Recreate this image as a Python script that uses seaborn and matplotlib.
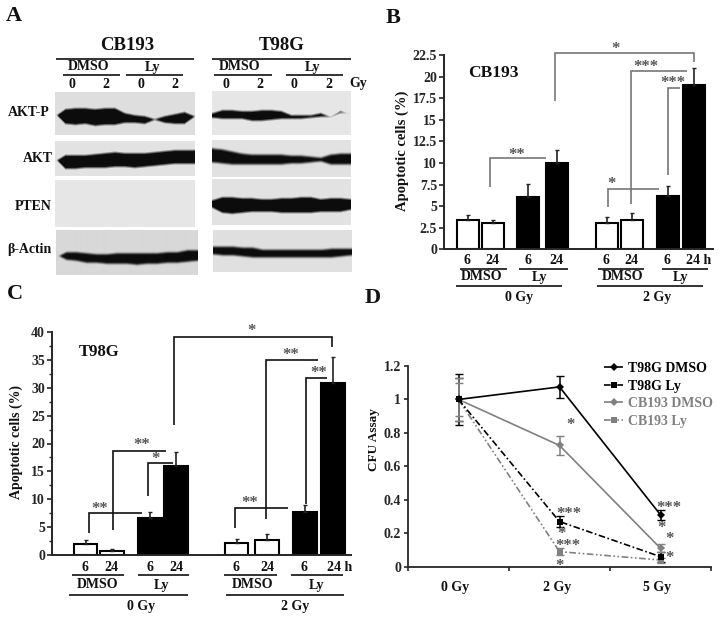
import numpy as np
import pandas as pd
import seaborn as sns
import matplotlib.pyplot as plt

W, H = 718, 619
INK = "#111111"

# bar panels
bar_groups = ["DMSO", "DMSO", "Ly", "Ly", "DMSO", "DMSO", "Ly", "Ly"]

cb193_pos = [468, 493.3, 528.3, 556.7, 607, 632.3, 667.7, 694.3]
cb193_vals = [3.4, 3.0, 6.0, 10.0, 3.0, 3.4, 6.2, 19.0]
cb193_err = [0.55, 0.45, 1.55, 1.5, 0.7, 0.75, 1.1, 2.0]
cb193_ticks = [0, 2.5, 5, 7.5, 10, 12.5, 15, 17.5, 20, 22.5]
cb193_ticklabels = ["0", "2.5", "5", "7.5", "10", "12.5", "15", "17.5", "20", "22.5"]

t98g_pos = [85.5, 112.3, 150.2, 176, 236.5, 267.2, 304.7, 333.3]
t98g_vals = [1.9, 0.8, 6.7, 15.9, 2.1, 2.7, 7.8, 30.9]
t98g_err = [0.8, 0.2, 0.96, 2.5, 0.77, 1.0, 1.2, 4.7]
t98g_ticks = [0, 5, 10, 15, 20, 25, 30, 35, 40]

# CFU panel
doses = ["0 Gy", "2 Gy", "5 Gy"]
cfu_t98g_dmso = [1, 1.075, 0.31]
cfu_t98g_ly = [1, 0.27, 0.06]
cfu_cb193_dmso = [1, 0.725, 0.11]
cfu_cb193_ly = [1, 0.09, 0.04]
err_t98g_dmso = [0.15, 0.065, 0.03]
err_t98g_ly = [0.13, 0.035, 0.03]
err_cb193_dmso = [0.13, 0.055, 0.025]
err_cb193_ly = [0.1, 0.02, 0.015]
series_names = ["T98G DMSO", "T98G Ly", "CB193 DMSO", "CB193 Ly"]
series_colors = ["#000000", "#000000", "#808080", "#808080"]

# blots: band top / bottom edge in pixel rows, 15 nodes across each strip
blot_names = ["AKT-P", "AKT", "PTEN", "β-Actin"]
blots = [
    ((55, 195, 92, 135), 222,
     [115, 108, 107, 107, 108, 107, 107, 112, 114, 115, 118, 115, 113, 111, 115],
     [115, 125, 126, 125, 127, 126, 126, 124, 124, 125, 121, 124, 125, 125, 118]),
    ((55, 195, 141, 176), 226,
     [160, 154, 154, 154, 153, 152, 151, 152, 152, 152, 151, 150, 149, 149, 149],
     [160, 170, 170, 169, 169, 169, 168, 168, 169, 168, 167, 166, 165, 165, 165]),
    ((55, 195, 180, 227), 230, [200] * 15, [200] * 15),
    ((56, 197, 230, 275), 216,
     [256, 251, 251, 252, 253, 253, 252, 252, 252, 252, 252, 251, 251, 249, 249],
     [256, 261, 262, 264, 264, 265, 265, 265, 266, 265, 265, 264, 264, 263, 262]),
    ((212, 351, 91, 135), 230,
     [112, 109, 109, 110, 110, 109, 109, 110, 114, 114, 114, 112, 116, 110, 114],
     [119, 120, 120, 120, 122, 122, 121, 120, 120, 120, 119, 118, 118, 114, 114]),
    ((212, 351, 140, 177), 226,
     [148, 149, 151, 153, 154, 154, 154, 154, 155, 155, 156, 157, 154, 153, 153],
     [164, 165, 166, 166, 166, 166, 166, 166, 165, 165, 164, 163, 166, 166, 166]),
    ((212, 351, 179, 225), 226,
     [199, 196, 196, 197, 197, 198, 198, 197, 197, 196, 196, 198, 197, 197, 198],
     [209, 214, 215, 214, 213, 213, 213, 214, 214, 214, 214, 213, 213, 213, 211]),
    ((213, 352, 230, 272), 224,
     [246, 246, 246, 247, 247, 249, 249, 249, 249, 249, 249, 249, 248, 248, 248],
     [256, 257, 257, 258, 259, 259, 259, 259, 259, 259, 259, 259, 259, 258, 257]),
]

sns.set_theme(style="ticks")
plt.rcParams["font.family"] = ["Liberation Serif", "DejaVu Serif"]
plt.rcParams["font.weight"] = "bold"
plt.rcParams["axes.labelweight"] = "bold"

fig = plt.figure(figsize=(W / 100, H / 100), dpi=100)


def add_ax(x0, x1, ytop, ybot):
    return fig.add_axes([x0 / W, 1 - ybot / H, (x1 - x0) / W, (ybot - ytop) / H])


over = add_ax(0, W, 0, H)
over.set_xlim(0, W)
over.set_ylim(H, 0)
over.set_axis_off()
over.set_zorder(10)
over.patch.set_alpha(0)


def txt(x, y, s, size=10, color=INK, ha="center", rotation=0):
    over.text(x, y, s, fontsize=size, color=color, ha=ha, va="center",
              rotation=rotation, fontweight="bold")


def line(xs, ys, color=INK, lw=1.2):
    over.plot(xs, ys, color=color, lw=lw, solid_joinstyle="miter", solid_capstyle="butt")


# panel A
for (box, bg, top, bot) in blots:
    ax = add_ax(box[0], box[1], box[2], box[3])
    rows = np.arange(box[2], box[3])[:, None] + 0.5
    cols = np.arange(box[1] - box[0]) / (box[1] - box[0] - 1) * 14
    # per pixel column edges so the band stays smooth sideways
    top = np.interp(cols, np.arange(15), top)
    bot = np.interp(cols, np.arange(15), bot)
    band = np.clip((rows - top) / 3.0, 0, 1) * np.clip((bot - rows) / 3.0, 0, 1)
    img = bg - (bg - 12) * np.clip(band * 1.15, 0, 1)
    ax.imshow(img, cmap="gray", vmin=0, vmax=255, aspect="auto", interpolation="bicubic")
    ax.set_axis_off()

for name, xr, y in zip(blot_names, [50, 53, 52, 51], [113, 158, 207, 250]):
    txt(xr, y, name, size=10, ha="right")

txt(127, 45, "CB193", size=13.5)
txt(282, 45, "T98G", size=13.5)
line([56, 194], [58.7, 58.7])
line([212, 351], [58.7, 58.7])
for xc, s, x0, x1 in [(89, "DMSO", 63, 120), (153, "Ly", 126, 183),
                      (240, "DMSO", 214, 272), (313, "Ly", 286, 343)]:
    txt(xc, 67, s)
    line([x0, x1], [75, 75])
for xc, s in zip([72, 106, 141, 175, 226, 260, 294, 329], ["0", "2"] * 4):
    txt(xc, 84, s)
txt(358, 83, "Gy")


def bar_panel(box, pos, vals, err, ticks, ylim, width):
    ax = add_ax(*box)
    df = pd.DataFrame({"pos": pos, "val": vals, "group": bar_groups})
    sns.barplot(data=df, x="pos", y="val", hue="group", dodge=False, native_scale=True,
                palette={"DMSO": "white", "Ly": "black"}, edgecolor="black", linewidth=1.5,
                width=width, errorbar=None, legend=False, ax=ax)
    ax.errorbar(pos, vals, yerr=[np.zeros(len(err)), err], fmt="none", ecolor="#222222",
                elinewidth=1.2, capsize=1.5, capthick=1)
    ax.set_xlim(box[0], box[1])
    ax.set_ylim(*ylim)
    ax.set_xticks([])
    ax.set_yticks(ticks)
    ax.set_xlabel("")
    ax.set_ylabel("")
    ax.tick_params(axis="y", length=3.5, width=1.2, pad=1.5, labelsize=10)
    sns.despine(ax=ax)
    for s in ["left", "bottom"]:
        ax.spines[s].set_linewidth(1.4)
    ax.patch.set_alpha(0)
    return ax


# panel B
ax_b = bar_panel((444, 713, 55, 249.3), cb193_pos, cb193_vals, cb193_err, cb193_ticks, (0, 22.5), 0.87)
ax_b.set_yticklabels(cb193_ticklabels)
txt(402, 151, "Apoptotic cells (%)", size=10.5, rotation=90)
txt(493, 73, "CB193", size=12.5)


def bx(z):
    return 380 + z / 3


for z, s in zip([262, 338, 444, 528, 678, 755, 862], ["6", "24", "6", "24", "6", "24", "6"]):
    txt(bx(z), 261, s)
txt(bx(955), 261, "24 h")
for z0, z1, zc, s in [(240, 382, 305, "DMSO"), (418, 565, 480, "Ly"),
                      (655, 793, 727, "DMSO"), (845, 985, 903, "Ly")]:
    line([bx(z0), bx(z1)], [268.5, 268.5])
    txt(bx(zc), 277, s)
line([bx(228), bx(547)], [285.5, 285.5])
line([bx(650), bx(968)], [285.5, 285.5])
txt(bx(418), 297, "0 Gy")
txt(bx(832), 297, "2 Gy")

GR = "#777777"
for xs, ys, s, tx, ty in [
    ([330, 330, 497], [560, 475, 475], "**", 410, 458),
    ([525, 525, 942, 942], [302, 160, 160, 187], "*", 708, 140),
    ([752, 752, 920], [612, 213, 213], "***", 798, 195),
    ([863, 863, 900], [525, 263, 263], "***", 878, 243),
    ([685, 685, 838], [620, 566, 566], "*", 693, 545),
]:
    line([bx(v) for v in xs], [v / 3 for v in ys], color=GR)
    txt(bx(tx), ty / 3 + 2, s, size=12, color="#555555")

# panel C
ax_c = bar_panel((52, 351, 332, 555), t98g_pos, t98g_vals, t98g_err, t98g_ticks, (0, 40), 0.93)
ax_c.set_yticks(np.array(t98g_ticks[:-1]) + 2.5, minor=True)
ax_c.tick_params(axis="y", which="minor", length=2.5, width=1)
txt(16, 442, "Apoptotic cells (%)", size=10, rotation=90)


def cy(z):
    return 300 + z / 3


txt(99, cy(157), "T98G", size=12)
for z, s in zip([255, 335, 451, 528, 708, 803, 912], ["6", "24", "6", "24", "6", "24", "6"]):
    txt(z / 3, cy(802), s)
txt(1020 / 3, cy(802), "24 h")
for z0, z1, zc, s in [(215, 372, 292, "DMSO"), (413, 568, 486, "Ly"),
                      (673, 830, 757, "DMSO"), (873, 1030, 950, "Ly")]:
    line([z0 / 3, z1 / 3], [cy(825), cy(825)])
    txt(zc / 3, cy(855), s)
line([208 / 3, 565 / 3], [cy(884), cy(884)])
line([677 / 3, 1033 / 3], [cy(884), cy(884)])
txt(422 / 3, cy(920), "0 Gy")
txt(884 / 3, cy(920), "2 Gy")

for xs, ys, s, tx, ty in [
    ([268, 268, 427], [698, 638, 638], "**", 300, 622),
    ([340, 340, 497], [690, 454, 454], "**", 425, 430),
    ([443, 443, 520], [587, 490, 490], "*", 468, 472),
    ([522, 522, 995, 995], [375, 110, 110, 142], "*", 755, 87),
    ([797, 797, 955], [658, 179, 179], "**", 873, 158),
    ([918, 918, 982], [612, 233, 233], "**", 957, 212),
    ([706, 706, 863], [685, 624, 624], "**", 750, 602),
]:
    line([v / 3 for v in xs], [cy(v) for v in ys])
    txt(tx / 3, cy(ty) + 2, s, size=12, color="#555555")

# panel D
ax_d = add_ax(408, 711, 366, 566.7)
all_vals = [cfu_t98g_dmso, cfu_t98g_ly, cfu_cb193_dmso, cfu_cb193_ly]
all_errs = [err_t98g_dmso, err_t98g_ly, err_cb193_dmso, err_cb193_ly]
frames = []
for name, vals in zip(series_names, all_vals):
    frames.append(pd.DataFrame({"dose": range(len(doses)), "cfu": vals, "series": name}))
cfu = pd.concat(frames)
sns.lineplot(data=cfu, x="dose", y="cfu", hue="series", style="series", errorbar=None,
             palette=dict(zip(series_names, series_colors)),
             markers=dict(zip(series_names, ["D", "s", "D", "s"])),
             dashes=dict(zip(series_names, [(1, 0), (4, 1.5, 1, 1.5), (1, 0), (4, 1.5, 1, 1.5, 1, 1.5)])),
             markersize=4.5, markeredgewidth=0, linewidth=1.2, ax=ax_d)
# black square sits on top at 0 Gy
for ln, z in zip(ax_d.lines[:4], [5, 6, 4, 3]):
    ln.set_zorder(z)
for vals, errs, col in zip(all_vals, all_errs, series_colors):
    ax_d.errorbar(range(len(doses)), vals, yerr=errs, fmt="none", ecolor=col,
                  elinewidth=1.1, capsize=3, capthick=1)
ax_d.set_xlim(-0.5, 2.5)
ax_d.set_ylim(0, 1.2)
ax_d.set_xticks([-0.5, 0.5, 1.5, 2.5])
ax_d.set_xticklabels([])
ax_d.set_yticks([0, 0.2, 0.4, 0.6, 0.8, 1, 1.2])
ax_d.set_yticklabels(["0", "0.2", "0.4", "0.6", "0.8", "1", "1.2"])
ax_d.tick_params(axis="y", length=3, width=1.2, pad=2, labelsize=10)
ax_d.tick_params(axis="x", length=3, width=1.2)
ax_d.set_xlabel("")
ax_d.set_ylabel("")
sns.despine(ax=ax_d)
for s in ["left", "bottom"]:
    ax_d.spines[s].set_linewidth(1.3)
ax_d.patch.set_alpha(0)
leg = ax_d.legend(frameon=False, loc="upper left", bbox_to_anchor=(0.647, 1.02), fontsize=10,
                  labelspacing=0.33, handlelength=1.4, handletextpad=0.3, borderpad=0, borderaxespad=0)
for t, col in zip(leg.get_texts(), series_colors):
    t.set_color(col)
    t.set_fontweight("bold")

txt(374, 440, "CFU Assay", size=9.5, rotation=90)


def dx(z):
    return 370 + z / 3


def dy(z):
    return 340 + z / 3


for z, s in zip([255, 560, 862], doses):
    txt(dx(z), dy(742), s)
for tx, ty, s in [(602, 248, "*"), (898, 498, "***"), (873, 557, "*"), (898, 590, "*"), (898, 648, "*"),
                  (598, 517, "***"), (573, 577, "*"), (595, 613, "***"), (570, 672, "*")]:
    txt(dx(tx), dy(ty) + 2, s, size=12, color="#555555")

txt(14, 16, "A", size=16)
txt(393, 18, "B", size=16)
txt(15, 294, "C", size=16)
txt(373, 298, "D", size=16)

fig.savefig("out.png", dpi=100)
